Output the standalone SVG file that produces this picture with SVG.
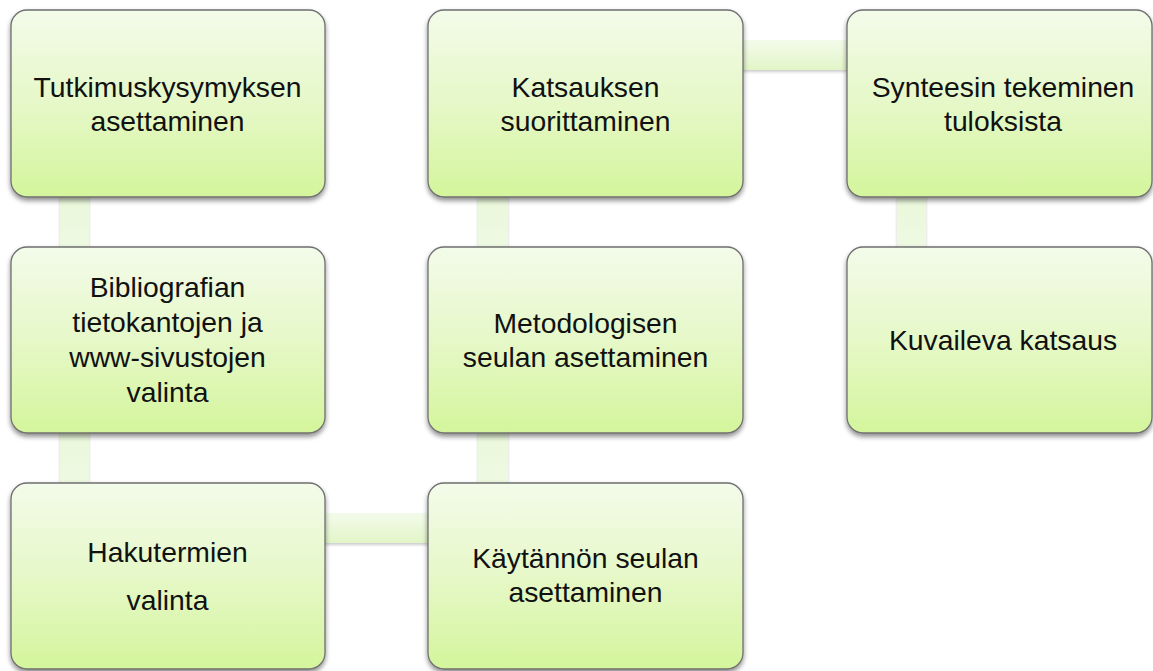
<svg xmlns="http://www.w3.org/2000/svg" width="1153" height="671" viewBox="0 0 1153 671">
<defs>
<linearGradient id="ng" x1="0" y1="0" x2="0" y2="1">
<stop offset="0" stop-color="#f3fbea"/>
<stop offset="0.5" stop-color="#e6f8c8"/>
<stop offset="1" stop-color="#d4f59c"/>
</linearGradient>
<linearGradient id="cv" x1="0" y1="0" x2="0" y2="1">
<stop offset="0" stop-color="#eaf8da"/>
<stop offset="1" stop-color="#eef9e2"/>
</linearGradient>
<linearGradient id="ch" x1="0" y1="0" x2="0" y2="1">
<stop offset="0" stop-color="#f3fbea"/>
<stop offset="1" stop-color="#e2f5c8"/>
</linearGradient>
<filter id="sh" x="-10%" y="-10%" width="120%" height="125%">
<feGaussianBlur in="SourceAlpha" stdDeviation="2.5"/>
<feOffset dx="0" dy="3" result="b"/>
<feComponentTransfer><feFuncA type="linear" slope="0.45"/></feComponentTransfer>
<feMerge><feMergeNode/><feMergeNode in="SourceGraphic"/></feMerge>
</filter>
<filter id="csh" x="-20%" y="-20%" width="140%" height="140%">
<feGaussianBlur in="SourceAlpha" stdDeviation="1.5"/>
<feOffset dx="0" dy="1.5"/>
<feComponentTransfer><feFuncA type="linear" slope="0.2"/></feComponentTransfer>
<feMerge><feMergeNode/><feMergeNode in="SourceGraphic"/></feMerge>
</filter>
</defs>
<style>
.box{fill:url(#ng);stroke:#6f6f6f;stroke-width:1.3;filter:url(#sh)}
.cv{fill:url(#cv);filter:url(#csh)}
.chz{fill:url(#ch);filter:url(#csh)}
text{font-family:"Liberation Sans",Arial,sans-serif;font-size:28.3px;fill:#111;text-anchor:middle}
</style>
<rect width="1153" height="671" fill="#ffffff"/>
<g id="connectors">
<rect class="cv" x="60" y="190" width="29" height="62"/>
<rect class="cv" x="60" y="426" width="29" height="62"/>
<rect class="chz" x="318" y="513" width="115" height="30"/>
<rect class="cv" x="478" y="426" width="30" height="62"/>
<rect class="cv" x="478" y="190" width="30" height="62"/>
<rect class="chz" x="736" y="40" width="116" height="30"/>
<rect class="cv" x="897" y="190" width="29" height="62"/>
</g>
<g id="n1"><rect class="box" x="11" y="10" width="314" height="187" rx="16"/>
<text x="167.5" y="97">Tutkimuskysymyksen</text><text x="167.5" y="131">asettaminen</text></g>
<g id="n2"><rect class="box" x="11" y="247" width="314" height="186" rx="16"/>
<text x="167.5" y="297">Bibliografian</text><text x="167.5" y="332">tietokantojen ja</text><text x="167.5" y="367">www-sivustojen</text><text x="167.5" y="402">valinta</text></g>
<g id="n3"><rect class="box" x="11" y="483" width="314" height="186" rx="16"/>
<text x="167.5" y="562">Hakutermien</text><text x="167.5" y="610">valinta</text></g>
<g id="n4"><rect class="box" x="428" y="483" width="315" height="186" rx="16"/>
<text x="585.5" y="568">Käytännön seulan</text><text x="585.5" y="602">asettaminen</text></g>
<g id="n5"><rect class="box" x="428" y="247" width="315" height="186" rx="16"/>
<text x="585.5" y="333">Metodologisen</text><text x="585.5" y="367">seulan asettaminen</text></g>
<g id="n6"><rect class="box" x="428" y="10" width="315" height="187" rx="16"/>
<text x="585.5" y="97">Katsauksen</text><text x="585.5" y="131">suorittaminen</text></g>
<g id="n7"><rect class="box" x="847" y="10" width="305" height="187" rx="16"/>
<text x="1003" y="97">Synteesin tekeminen</text><text x="1003" y="131">tuloksista</text></g>
<g id="n8"><rect class="box" x="847" y="247" width="305" height="186" rx="16"/>
<text x="1003" y="350">Kuvaileva katsaus</text></g>
</svg>
